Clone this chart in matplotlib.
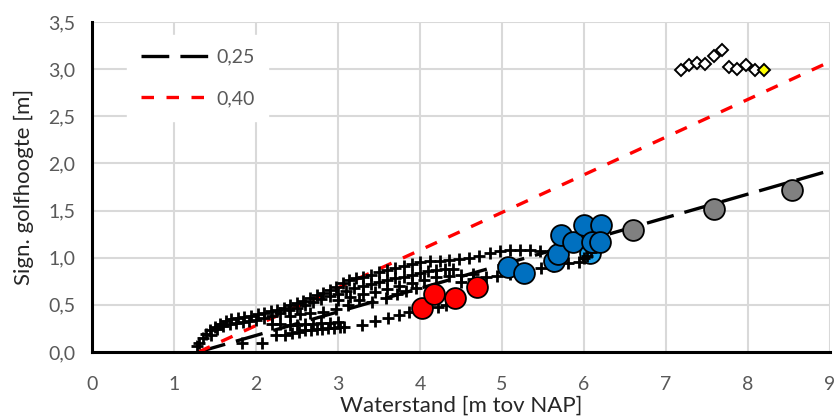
import matplotlib.pyplot as plt
import numpy as np

plt.rcParams['font.family'] = ['Lato', 'DejaVu Sans']
plt.rcParams['lines.scale_dashes'] = False

# slope lines y = s * (x - x0)
slopes = [0.25, 0.40]
slope_labels = ['0,25', '0,40']
x_start = 1.3
x_end = 9.0

# plus markers (several tidal loops)
plus_x1 = [1.28, 1.31, 1.35, 1.39, 1.44, 1.5, 1.56, 1.63, 1.7, 1.78, 1.86, 1.94, 2.02, 2.1, 2.18, 2.26,
           2.34, 2.42, 2.5, 2.58, 2.66, 2.74, 2.82, 2.9, 2.98, 3.06, 3.14, 3.22, 3.3, 3.4, 3.5, 3.6,
           3.7, 3.8, 3.9, 4.0, 4.12, 4.24, 4.36, 4.48, 4.6, 4.72, 4.85, 4.98, 5.1, 5.22, 5.34, 5.46]
plus_y1 = [0.06, 0.10, 0.15, 0.19, 0.23, 0.27, 0.30, 0.33, 0.35, 0.36, 0.37, 0.38, 0.40, 0.41, 0.43, 0.45,
           0.47, 0.50, 0.52, 0.54, 0.57, 0.60, 0.63, 0.66, 0.69, 0.73, 0.76, 0.78, 0.80, 0.82, 0.85, 0.87,
           0.89, 0.91, 0.93, 0.95, 0.96, 0.97, 0.98, 0.99, 1.00, 1.02, 1.05, 1.07, 1.08, 1.08, 1.08, 1.07]
plus_x2 = [1.45, 1.52, 1.6, 1.68, 1.76, 1.84, 1.92, 2.0, 2.1, 2.2, 2.3, 2.4, 2.5, 2.6, 2.7, 2.8,
           2.9, 3.0, 3.1, 3.2, 3.3, 3.4, 3.5, 3.6, 3.7, 3.8, 3.9, 4.0, 4.1, 4.2, 4.3, 4.4]
plus_y2 = [0.18, 0.24, 0.28, 0.30, 0.31, 0.32, 0.33, 0.34, 0.36, 0.38, 0.41, 0.44, 0.47, 0.50, 0.53, 0.56,
           0.59, 0.62, 0.65, 0.68, 0.70, 0.72, 0.74, 0.76, 0.78, 0.80, 0.82, 0.84, 0.86, 0.87, 0.88, 0.88]
plus_x3 = [3.0, 3.15, 3.3, 3.45, 3.6, 3.75, 3.9, 4.05, 4.2, 4.35, 4.5, 4.65]
plus_y3 = [0.55, 0.58, 0.62, 0.64, 0.67, 0.70, 0.73, 0.76, 0.79, 0.81, 0.82, 0.83]
plus_x4 = [2.41, 2.54, 2.66, 2.82, 2.98, 3.12, 3.26, 3.42, 3.59, 3.72, 3.83, 3.95]
plus_y4 = [0.38, 0.40, 0.41, 0.42, 0.46, 0.50, 0.55, 0.53, 0.57, 0.62, 0.65, 0.68]
plus_x5 = [1.83, 2.07, 2.25, 2.35, 2.44, 2.53, 2.6, 2.67, 2.74, 2.81, 2.88, 2.95, 3.02, 3.08,
           2.2, 2.3, 2.41, 2.5, 2.6, 2.7, 2.8, 2.9, 3.0]
plus_y5 = [0.10, 0.10, 0.18, 0.18, 0.20, 0.21, 0.23, 0.23, 0.24, 0.24, 0.25, 0.25, 0.26, 0.27,
           0.30, 0.30, 0.29, 0.29, 0.30, 0.30, 0.31, 0.31, 0.32]
plus_x6 = [3.29, 3.45, 3.61, 3.75, 3.87, 4.0, 4.22, 4.32]
plus_y6 = [0.29, 0.33, 0.36, 0.39, 0.42, 0.44, 0.48, 0.50]
plus_x7 = [4.5, 4.65, 4.8, 4.94, 5.1, 5.25, 5.48, 5.62, 5.8, 5.94, 6.0, 6.04, 6.08]
plus_y7 = [0.74, 0.77, 0.79, 0.81, 0.83, 0.86, 0.89, 0.91, 0.94, 0.95, 1.0, 1.02, 1.06]

grey_x = [6.6, 7.58, 8.54]
grey_y = [1.29, 1.52, 1.72]
blue_x = [5.07, 5.27, 5.63, 5.68, 5.72, 5.87, 6.0, 6.21, 6.1, 6.2]
blue_y = [0.90, 0.84, 0.96, 1.04, 1.24, 1.17, 1.35, 1.35, 1.17, 1.17]
lightblue_x = [6.07]
lightblue_y = [1.05]
red_x = [4.02, 4.17, 4.43, 4.70]
red_y = [0.47, 0.62, 0.57, 0.69]
diamond_x = [7.18, 7.28, 7.38, 7.48, 7.58, 7.68, 7.77, 7.87, 7.98, 8.08]
diamond_y = [2.99, 3.04, 3.07, 3.06, 3.14, 3.20, 3.02, 3.00, 3.04, 2.99]
yellow_x = [8.19]
yellow_y = [2.99]

xticks = [0, 1, 2, 3, 4, 5, 6, 7, 8, 9]
yticks = [0.0, 0.5, 1.0, 1.5, 2.0, 2.5, 3.0, 3.5]
ytick_labels = ['0,0', '0,5', '1,0', '1,5', '2,0', '2,5', '3,0', '3,5']

fig = plt.figure(figsize=(8.35, 4.17), dpi=100)
ax = fig.add_axes([0.11, 0.156, 0.884, 0.791])

xs = np.array([x_start, x_end])
ax.plot(xs, slopes[0] * (xs - x_start), color='black', lw=2.4, dashes=(20, 8),
        label=slope_labels[0], zorder=2)
ax.plot(xs, slopes[1] * (xs - x_start), color='#ff0000', lw=2.4, dashes=(9, 9),
        label=slope_labels[1], zorder=2)

ax.plot(lightblue_x, lightblue_y, 'o', ms=15, color='#1f9fe6', mec='black', mew=1.3, zorder=2.5)

px = plus_x1 + plus_x2 + plus_x3 + plus_x4 + plus_x5 + plus_x6 + plus_x7
py = plus_y1 + plus_y2 + plus_y3 + plus_y4 + plus_y5 + plus_y6 + plus_y7
ax.plot(px, py, '+', ms=8, mew=2.0, color='black', zorder=3)

circ = dict(ms=15, mec='black', mew=1.3, ls='none', marker='o', zorder=4)
ax.plot(grey_x, grey_y, color='#808080', **circ)
ax.plot(blue_x, blue_y, color='#0070c0', **circ)
ax.plot(red_x, red_y, color='#ff0000', **circ)

ax.plot(diamond_x, diamond_y, 'D', ms=6.3, color='white', mec='black', mew=1.4, zorder=4)
ax.plot(yellow_x, yellow_y, 'D', ms=6.3, color='#ffff00', mec='black', mew=1.4, zorder=4)

ax.set_xlim(0, 9)
ax.set_ylim(0, 3.5)
ax.set_xticks(xticks)
ax.set_yticks(yticks)
ax.set_yticklabels(ytick_labels)
ax.tick_params(length=0, labelsize=14, labelcolor='#595959')
ax.tick_params(axis='x', pad=17)
ax.tick_params(axis='y', pad=12)
ax.grid(True, color='#d9d9d9', lw=1.5, zorder=0)
ax.set_axisbelow(True)
for s in ['top', 'right']:
    ax.spines[s].set_visible(False)
for s in ['left', 'bottom']:
    ax.spines[s].set_linewidth(2.2)
    ax.spines[s].set_color('black')

ax.set_xlabel('Waterstand [m tov NAP]', fontsize=16, color='#262626', labelpad=2)
ax.set_ylabel('Sign. golfhoogte [m]', fontsize=16, color='#262626', labelpad=10)

leg = ax.legend(loc='upper left', bbox_to_anchor=(0.035, 0.99), frameon=True, fancybox=False,
                edgecolor='white', framealpha=1, fontsize=14, handlelength=3.6,
                handletextpad=0.25, labelspacing=1.25, borderpad=0.7)
for t in leg.get_texts():
    t.set_color('#595959')

fig.savefig('out.png', dpi=100)
